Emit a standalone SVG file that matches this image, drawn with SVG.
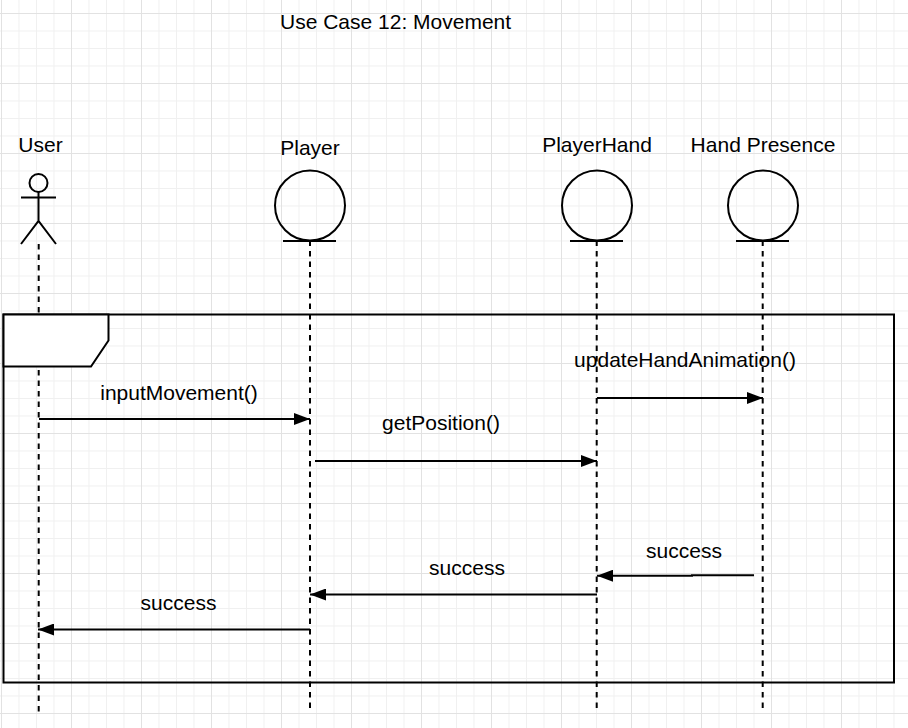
<svg xmlns="http://www.w3.org/2000/svg" width="908" height="728" viewBox="0 0 908 728">
<style>
text{font-family:"Liberation Sans",Arial,sans-serif;font-size:21px;fill:#000}
.m{text-anchor:middle}
.s{fill:none;stroke:#000;stroke-width:2}
.o{fill:#fff;stroke:#000;stroke-width:2}
.ll{fill:none;stroke:#000;stroke-width:2;stroke-dasharray:5.5 5}
.msg{fill:none;stroke:#000;stroke-width:2;marker-end:url(#arrow)}
</style>
<defs>
<marker id="arrow" markerUnits="userSpaceOnUse" markerWidth="16" markerHeight="12" refX="16" refY="6" orient="auto"><path d="M0 0L16 6L0 12Z" fill="#000"/></marker>
<pattern id="minor" patternUnits="userSpaceOnUse" x="1" y="13" width="17.5" height="17.5"><path d="M0 .5H17.5M.5 0V17.5" fill="none" stroke="#f0f0f0" stroke-width="1"/></pattern>
<pattern id="major" patternUnits="userSpaceOnUse" x="1" y="13" width="70" height="70"><path d="M0 .5H70M.5 0V70" fill="none" stroke="#e2e2e2" stroke-width="1"/></pattern>
</defs>
<rect width="908" height="728" fill="#fff"/>
<rect width="908" height="728" fill="url(#minor)"/>
<rect width="908" height="728" fill="url(#major)"/>
<text x="280" y="29">Use Case 12: Movement</text>
<g id="connectors">
<path class="ll" d="M38.700 244V712"/>
<path class="ll" d="M310 240.500V708"/>
<path class="ll" d="M596.700 240.500V708"/>
<path class="ll" d="M762.700 240.500V708"/>
<path class="msg" d="M39 419H310"/>
<path class="msg" d="M315 461H597"/>
<path class="msg" d="M597 398H763"/>
<path class="msg" d="M754 575.300H692V575.700H597"/>
<path class="msg" d="M597 594.500H310"/>
<path class="msg" d="M310 629.500H38"/>
</g>
<g id="frame">
<rect class="s" x="3.500" y="314.500" width="890.500" height="368"/>
<path class="o" d="M3.500 314.500H108.500V340.500L91 366.500H3.500Z"/>
</g>
<g id="user">
<circle class="s" cx="38.500" cy="183" r="9"/>
<path class="s" d="M38.500 192V221M21 197.500H56M21 244L38.500 221L56 244"/>
<text class="m" x="40.500" y="152">User</text>
</g>
<g id="player">
<circle class="s" cx="310" cy="205.500" r="35"/>
<path class="s" d="M283 241H336"/>
<text class="m" x="310" y="155">Player</text>
</g>
<g id="playerhand">
<circle class="s" cx="597" cy="205.500" r="35"/>
<path class="s" d="M570 241H623"/>
<text class="m" x="597" y="152">PlayerHand</text>
</g>
<g id="handpresence">
<circle class="s" cx="763" cy="205.500" r="35"/>
<path class="s" d="M736 241H789"/>
<text class="m" x="763" y="152">Hand Presence</text>
</g>
<g id="labels">
<text class="m" x="179" y="400">inputMovement()</text>
<text class="m" x="441" y="430">getPosition()</text>
<text class="m" x="685" y="367">updateHandAnimation()</text>
<text class="m" x="684" y="558">success</text>
<text class="m" x="467" y="575">success</text>
<text class="m" x="178.500" y="610">success</text>
</g>
</svg>
